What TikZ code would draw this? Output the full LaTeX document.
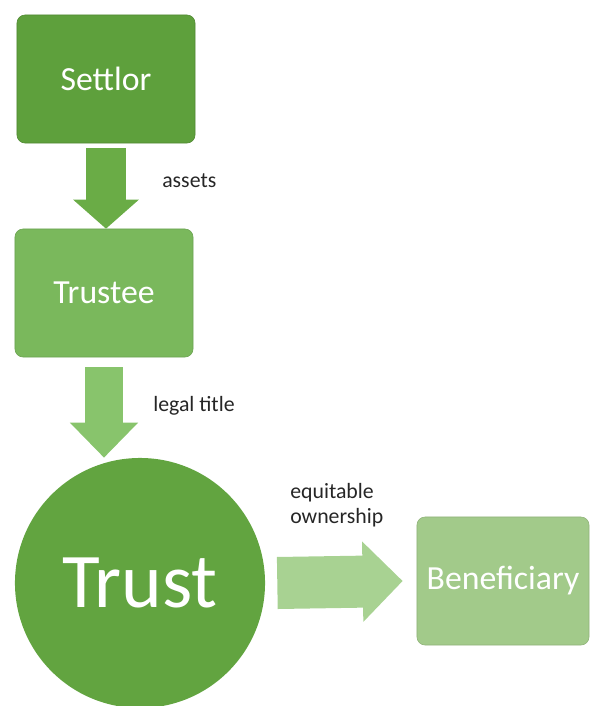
\documentclass[tikz,border=0pt]{standalone}
\usepackage{fontspec}
\setmainfont{Carlito}
\usepackage{tikz}
\usetikzlibrary{arrows.meta,shapes,positioning,calc}
\definecolor{settlorgreen}{RGB}{94,160,60}
\definecolor{trusteegreen}{RGB}{122,184,92}
\definecolor{trustgreen}{RGB}{98,164,64}
\definecolor{benefgreen}{RGB}{162,202,138}
\definecolor{arrowone}{RGB}{106,172,70}
\definecolor{arrowtwo}{RGB}{136,196,108}
\definecolor{arrowthree}{RGB}{168,210,146}

\begin{document}
\begin{tikzpicture}[x=0.025cm,y=-0.025cm,
    party/.style={rectangle, rounded corners=0.2cm, minimum width=4.45cm,
        minimum height=3.2cm, text=white, inner sep=0pt,
        font=\fontsize{24}{28}\selectfont},
    label/.style={inner sep=0pt, text=black!85, font=\fontsize{15.5}{18}\selectfont}]
\useasboundingbox (0,0) rectangle (590,706);

    % Parties
    \node[party, fill=settlorgreen, draw=settlorgreen!85!black] (settlor) at (106,79) {Settlor};
    \node[party, fill=trusteegreen, draw=trusteegreen!88!black] (trustee) at (104,293) {Trustee};
    \node[circle, minimum size=6.25cm, inner sep=0pt, fill=trustgreen, text=white,
        font=\fontsize{55}{60}\selectfont] (trust) at (140,583) {Trust};
    \node[party, fill=benefgreen, draw=benefgreen!88!black, minimum width=4.3cm] (benef) at (503,581) {Beneficiary};

    % Transfers
    \draw[arrowone, line width=1cm, -{Triangle[length=0.725cm,width=1.6cm]}]
        ($(settlor.south)+(0,5)$) -- (settlor.south |- trustee.north);
    \draw[arrowtwo, line width=0.95cm, -{Triangle[length=0.875cm,width=1.65cm]}]
        ($(trustee.south)+(0,10)$) -- (trustee.south |- trust.north);
    \draw[arrowthree, line width=1.3cm, -{Triangle[length=1cm,width=1.95cm]}]
        ($(trust.east)+(12,0)$) -- ($(benef.west)+(-14,0)$);

    % Labels
    \node[label, anchor=base west] (assets) at (162,187) {assets};
    \node[label, anchor=base west] (legal) at (153,411) {legal title};
    \node[label, anchor=north west, align=left] (equit) at (290,483) {equitable\\ownership};
\end{tikzpicture}
\end{document}
